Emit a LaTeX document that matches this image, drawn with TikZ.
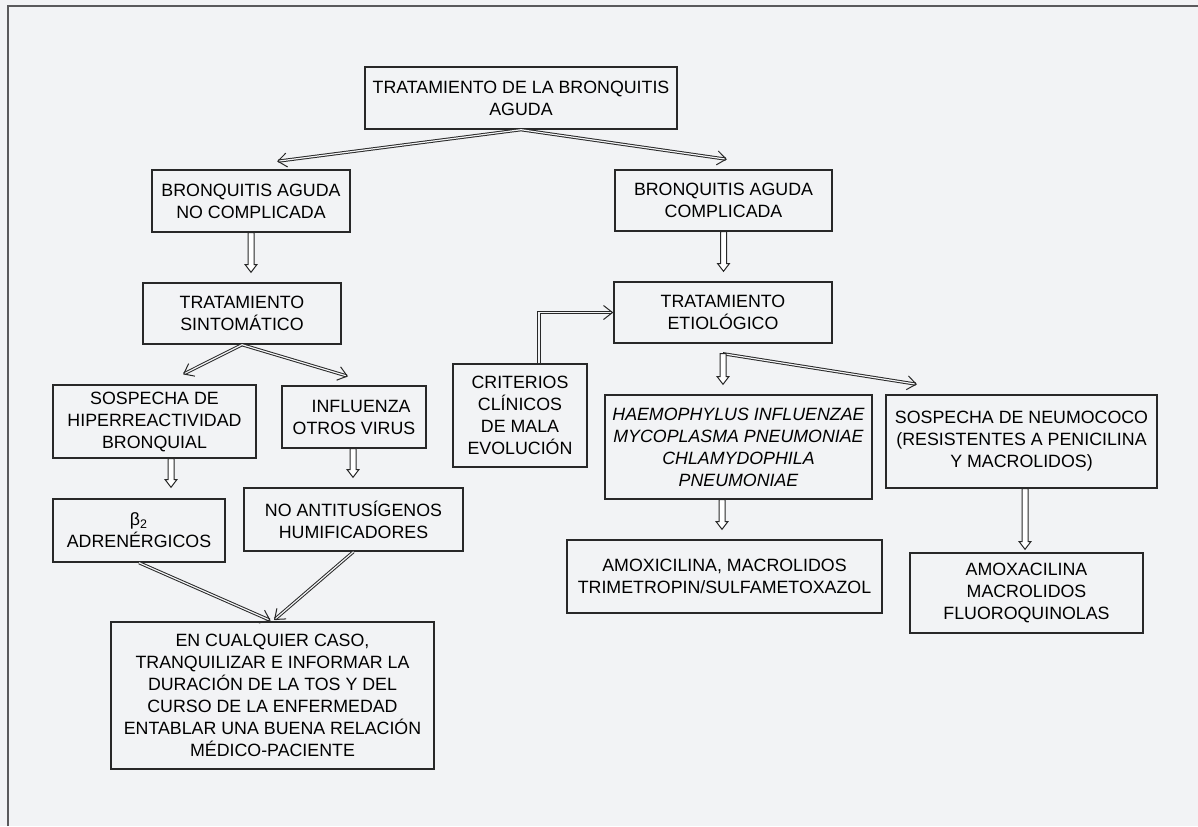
\documentclass[tikz,border=0pt]{standalone}
\usepackage{fontspec}
\setmainfont{Liberation Sans}
\usepackage{tikz}
\usetikzlibrary{arrows.meta, calc}
\definecolor{bg}{RGB}{242,243,245}
\definecolor{boxline}{RGB}{40,40,40}
\definecolor{framegray}{RGB}{90,90,92}
\tikzset{
    box/.style={draw=boxline, line width=0.7pt, align=center, inner sep=2pt,
        font=\fontsize{8.9pt}{11pt}\selectfont},
    dbl/.style={draw=boxline, double=bg, double distance=0.6pt, line width=0.5pt,
        -{Straight Barb[length=4.5pt, width=7pt]}},
    hollow/.style={draw=boxline, line width=0.5pt, fill=white,
        to path={let \p1=(\tikztostart), \p2=(\tikztotarget) in
            (\x1-1.5pt,\y1) -- (\x1-1.5pt,\y2+3.8pt) -- (\x1-2.9pt,\y2+3.8pt) -- (\x1,\y2)
            -- (\x1+2.9pt,\y2+3.8pt) -- (\x1+1.5pt,\y2+3.8pt) -- (\x1+1.5pt,\y1) -- cycle}}
}

\begin{document}
\begin{tikzpicture}[x=0.5pt, y=-0.5pt]
    \useasboundingbox (0,0) rectangle (1198,826);
    \fill[bg] (0,0) rectangle (1198,826);
    \draw[framegray, line width=1pt] (7.5,826) -- (7.5,5.5) -- (1198,5.5);

    % Boxes
    \node[box, minimum width=156pt, minimum height=31pt] (top) at (521,98) {TRATAMIENTO DE LA BRONQUITIS\\AGUDA};
    \node[box, minimum width=99pt, minimum height=31pt] (nc) at (251,201) {BRONQUITIS AGUDA\\NO COMPLICADA};
    \node[box, minimum width=108.5pt, minimum height=30.5pt] (comp) at (723.5,200.5) {BRONQUITIS AGUDA\\COMPLICADA};
    \node[box, minimum width=99pt, minimum height=30.5pt] (ts) at (242,313.5) {TRATAMIENTO\\SINTOMÁTICO};
    \node[box, minimum width=109pt, minimum height=30.5pt] (te) at (723,312.5) {TRATAMIENTO\\ETIOLÓGICO};
    \node[box, minimum width=67pt, minimum height=51.5pt] (crit) at (520,415.5) {CRITERIOS\\CLÍNICOS\\DE MALA\\EVOLUCIÓN};
    \node[box, minimum width=133.5pt, minimum height=52pt, font=\fontsize{8.9pt}{11pt}\selectfont\itshape] (haem) at (738.5,447)
        {HAEMOPHYLUS INFLUENZAE\\MYCOPLASMA PNEUMONIAE\\CHLAMYDOPHILA\\PNEUMONIAE};
    \node[box, minimum width=135.5pt, minimum height=46.5pt] (neumo) at (1021.5,441.5) {SOSPECHA DE NEUMOCOCO\\(RESISTENTES A PENICILINA\\Y MACROLIDOS)};
    \node[box, minimum width=157.5pt, minimum height=36.5pt] (amoxa) at (724.5,576.5) {AMOXICILINA, MACROLIDOS\\TRIMETROPIN/SULFAMETOXAZOL};
    \node[box, minimum width=116.5pt, minimum height=40pt] (amoxb) at (1026.5,593) {AMOXACILINA\\MACROLIDOS\\FLUOROQUINOLAS};
    \node[box, minimum width=101.5pt, minimum height=36.5pt] (hiper) at (154.5,421.5) {SOSPECHA DE\\HIPERREACTIVIDAD\\BRONQUIAL};
    \node[box, minimum width=72pt, minimum height=31pt] (infl) at (354,417) {\hspace{0.8em}INFLUENZA\\OTROS VIRUS};
    \node[box, minimum width=86pt, minimum height=31.5pt] (beta) at (139,530.5) {β\textsubscript{2}\\ADRENÉRGICOS};
    \node[box, minimum width=109.5pt, minimum height=31.5pt] (noanti) at (353.5,519.5) {NO ANTITUSÍGENOS\\HUMIFICADORES};
    \node[box, minimum width=161.5pt, minimum height=73.5pt] (final) at (272.5,695.5)
        {EN CUALQUIER CASO,\\TRANQUILIZAR E INFORMAR LA\\DURACIÓN DE LA TOS Y DEL\\CURSO DE LA ENFERMEDAD\\ENTABLAR UNA BUENA RELACIÓN\\MÉDICO-PACIENTE};

    % Arrow ends
    \coordinate (ncin) at ([xshift=13pt, yshift=4pt]nc.north);
    \coordinate (compin) at ([xshift=1.75pt, yshift=5pt]comp.north);
    \coordinate (hiperin) at ([xshift=14.25pt, yshift=5pt]hiper.north);
    \coordinate (inflin) at ([xshift=-3pt, yshift=4.5pt]infl.north);
    \coordinate (tefork) at ([yshift=-5pt]te.south);
    \coordinate (neumoin) at ([xshift=-52.25pt, yshift=5pt]neumo.north);

    % Double-line arrows
    \draw[dbl] (top.south) -- (ncin);
    \draw[dbl] (top.south) -- (compin);
    \draw[dbl] (ts.south) -- (hiperin);
    \draw[dbl] (ts.south) -- (inflin);
    \draw[dbl, shorten >=1pt] (beta.south) -- (final.north);
    \draw[dbl, shorten >=1pt] (noanti.south) -- (final.north);
    \draw[dbl] ([xshift=9.5pt]crit.north) |- (te.west);
    \draw[dbl] (tefork) -- (neumoin);

    % Hollow arrows
    \draw[hollow] (nc.south) to ([yshift=5pt]ts.north);
    \draw[hollow] (comp.south) to ([yshift=5pt]te.north);
    \draw[hollow] ([xshift=8.25pt]hiper.south) to ([yshift=5.5pt]beta.north);
    \draw[hollow] ([xshift=-0.5pt]infl.south) to ([yshift=5pt]noanti.north);
    \draw[hollow] (tefork) to ([yshift=5pt]haem.north);
    \draw[hollow] ([xshift=-8.25pt]haem.south) to ([yshift=5pt]amoxa.north);
    \draw[hollow] ([xshift=1.75pt]neumo.south) to ([yshift=1.5pt]amoxb.north);
\end{tikzpicture}
\end{document}
